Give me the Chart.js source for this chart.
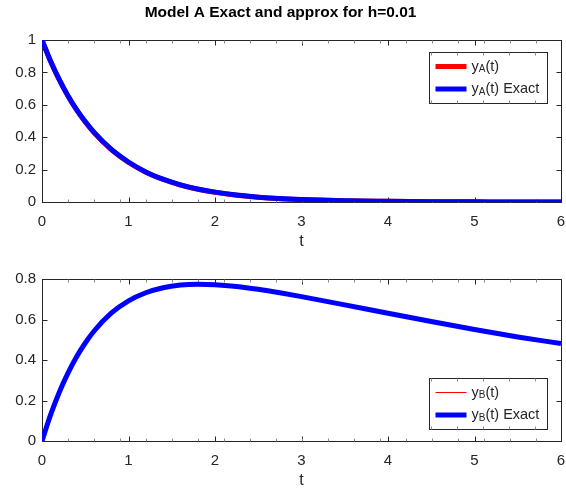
<!DOCTYPE html>
<html>
<head>
<meta charset="utf-8">
<script src="https://cdn.jsdelivr.net/npm/chart.js@4.4.0/dist/chart.umd.min.js"></script>
<style>
  html, body { margin: 0; padding: 0; background: #fff; }
  #wrap { position: relative; width: 566px; height: 494px; }
  .panel { position: absolute; left: 0; width: 566px; }
  #panelA { top: 0; height: 260px; }
  #panelB { top: 260px; height: 234px; }
</style>
</head>
<body>
<div id="wrap">
  <div class="panel" id="panelA"><canvas id="chartA" width="566" height="260"></canvas></div>
  <div class="panel" id="panelB"><canvas id="chartB" width="566" height="234"></canvas></div>
</div>
<script>
// sample times and concentrations
const tValues  = [0, 0.1, 0.2, 0.3, 0.4, 0.5, 0.6, 0.8, 1.0, 1.2, 1.4, 1.6, 1.8, 2.0, 2.25, 2.5, 2.75, 3.0, 3.5, 4.0, 4.5, 5.0, 5.5, 6.0];
const yAApprox = [1.000, 0.868, 0.754, 0.655, 0.569, 0.494, 0.429, 0.324, 0.244, 0.184, 0.139, 0.105, 0.079, 0.060, 0.042, 0.029, 0.020, 0.015, 0.007, 0.004, 0.002, 0.001, 0.000, 0.000];
const yAExact  = [1.000, 0.869, 0.756, 0.657, 0.571, 0.497, 0.432, 0.326, 0.247, 0.186, 0.141, 0.106, 0.080, 0.061, 0.043, 0.030, 0.021, 0.015, 0.007, 0.004, 0.002, 0.001, 0.000, 0.000];
const yBApprox = [0.000, 0.131, 0.242, 0.336, 0.417, 0.485, 0.543, 0.632, 0.692, 0.732, 0.757, 0.770, 0.774, 0.772, 0.763, 0.749, 0.731, 0.712, 0.671, 0.630, 0.589, 0.550, 0.513, 0.480];
const yBExact  = [0.000, 0.130, 0.241, 0.335, 0.416, 0.484, 0.542, 0.631, 0.692, 0.732, 0.757, 0.770, 0.774, 0.772, 0.763, 0.749, 0.732, 0.713, 0.672, 0.631, 0.590, 0.551, 0.514, 0.481];

const xTicks  = [0, 1, 2, 3, 4, 5, 6];
const yTicksA = [0, 0.2, 0.4, 0.6, 0.8, 1];
const yTicksB = [0, 0.2, 0.4, 0.6, 0.8];

const AXIS_COLOR = '#262626';
const FONT = '"Liberation Sans", Arial, Helvetica, sans-serif';

function points(ys) {
    return tValues.map((t, i) => ({ x: t, y: ys[i] }));
}

// box round the axes, inward ticks on all four sides
const framePlugin = {
    id: 'frame',
    beforeDatasetsDraw(chart, args, opts) {
        const { ctx, chartArea: a, scales } = chart;
        const L = Math.round(a.left) + 0.5, R = Math.round(a.right) + 0.5;
        const T = Math.round(a.top) + 0.5, B = Math.round(a.bottom) + 0.5;
        ctx.save();
        ctx.lineWidth = 1;
        ctx.strokeStyle = AXIS_COLOR;
        ctx.strokeRect(L, T, R - L, B - T);
        ctx.beginPath();
        xTicks.forEach(v => {
            const px = Math.round(scales.x.getPixelForValue(v)) + 0.5;
            ctx.moveTo(px, B); ctx.lineTo(px, B - 5);
            ctx.moveTo(px, T); ctx.lineTo(px, T + 5);
        });
        opts.yTicks.forEach(v => {
            const py = Math.round(scales.y.getPixelForValue(v)) + 0.5;
            ctx.moveTo(L, py); ctx.lineTo(L + 5, py);
            ctx.moveTo(R, py); ctx.lineTo(R - 5, py);
        });
        ctx.stroke();
        // small ticks, twenty to the width
        ctx.strokeStyle = '#8a8a8a';
        ctx.beginPath();
        for (let i = 1; i < 20; i++) {
            const px = Math.round(L + (R - L) * i / 20) + 0.5;
            ctx.moveTo(px, B); ctx.lineTo(px, B - 3);
            ctx.moveTo(px, T); ctx.lineTo(px, T + 3);
        }
        ctx.stroke();
        ctx.restore();
    }
};

// label like "y_A(t)": the letter after "_" is set as a subscript
function drawLabel(ctx, text, x, y) {
    const m = text.match(/^(.*?)_(\w)(.*)$/);
    const parts = m ? [[m[1], 14.5, 0], [m[2], 10, 3], [m[3], 14.5, 0]] : [[text, 14.5, 0]];
    parts.forEach(([s, size, dy]) => {
        ctx.font = size + 'px ' + FONT;
        ctx.fillText(s, x, y + dy);
        x += ctx.measureText(s).width;
    });
}

const boxLegend = {
    id: 'boxLegend',
    afterDraw(chart, args, opts) {
        const { ctx, chartArea: a } = chart;
        const w = 118, h = 51;
        const left = Math.round(a.right - 14 - w) + 0.5;
        const top = Math.round(opts.anchor === 'top' ? a.top + 12 : a.bottom - 12 - h) + 0.5;
        ctx.save();
        ctx.fillStyle = '#fff';
        ctx.fillRect(left, top, w, h);
        ctx.lineWidth = 1;
        ctx.strokeStyle = AXIS_COLOR;
        ctx.strokeRect(left, top, w, h);
        ctx.strokeStyle = '#8a8a8a';
        ctx.beginPath();
        for (let i = 1; i < 20; i++) {
            const px = Math.round(a.left + a.width * i / 20) + 0.5;
            if (px <= left || px >= left + w) continue;
            ctx.moveTo(px, top); ctx.lineTo(px, top + 3);
            ctx.moveTo(px, top + h); ctx.lineTo(px, top + h - 3);
        }
        ctx.stroke();
        const rows = [top + 14, top + 36.5];
        chart.data.datasets.forEach((ds, i) => {
            const y = rows[i];
            ctx.strokeStyle = ds.borderColor;
            ctx.lineWidth = ds.borderWidth;
            ctx.beginPath();
            ctx.moveTo(left + 6, y);
            ctx.lineTo(left + 37, y);
            ctx.stroke();
            ctx.fillStyle = AXIS_COLOR;
            ctx.textBaseline = 'middle';
            drawLabel(ctx, ds.label, left + 42, y);
        });
        ctx.restore();
    }
};

function makeChart(id, cfg) {
    return new Chart(document.getElementById(id), {
        type: 'line',
        data: {
            datasets: [
                { label: cfg.labels[0], data: points(cfg.approx), borderColor: '#ff0000',
                  borderWidth: cfg.approxWidth, order: 2 },
                { label: cfg.labels[1], data: points(cfg.exact), borderColor: '#0000ff',
                  borderWidth: 5, order: 1 }
            ]
        },
        options: {
            responsive: false,
            animation: false,
            devicePixelRatio: 1,
            elements: { point: { radius: 0 }, line: { cubicInterpolationMode: 'monotone' } },
            layout: { padding: cfg.padding },
            plugins: {
                legend: { display: false },
                tooltip: { enabled: false },
                title: cfg.title ? {
                    display: true, text: cfg.title, color: '#000',
                    font: { family: FONT, size: 15.5, weight: 'bold' },
                    padding: { top: 3.5, bottom: 18 }
                } : { display: false },
                frame: { yTicks: cfg.yTicks },
                boxLegend: { anchor: cfg.legendAt }
            },
            scales: {
                x: {
                    type: 'linear', min: 0, max: 6,
                    afterBuildTicks: s => { s.ticks = xTicks.map(v => ({ value: v })); },
                    afterFit: s => { s.height = cfg.xHeight; s.paddingLeft = 0; s.paddingRight = 0; },
                    grid: { display: false, drawTicks: false }, border: { display: false },
                    ticks: { color: AXIS_COLOR, padding: 11, maxRotation: 0,
                             font: { family: FONT, size: 15 },
                             callback: v => String(v) },
                    title: { display: true, text: 't', color: AXIS_COLOR,
                             font: { family: FONT, size: 16 },
                             padding: { top: 0, bottom: cfg.tPad } }
                },
                y: {
                    min: 0, max: cfg.yTicks[cfg.yTicks.length - 1],
                    afterBuildTicks: s => { s.ticks = cfg.yTicks.map(v => ({ value: v })); },
                    afterFit: s => { s.width = 42; s.paddingTop = 0; s.paddingBottom = 0; },
                    grid: { display: false, drawTicks: false }, border: { display: false },
                    ticks: { color: AXIS_COLOR, padding: 6,
                             font: { family: FONT, size: 15 },
                             callback: v => String(v) }
                }
            }
        },
        plugins: [framePlugin, boxLegend]
    });
}

makeChart('chartA', {
    title: 'Model A Exact and approx for h=0.01',
    labels: ['y_A(t)', 'y_A(t) Exact'],
    approx: yAApprox, exact: yAExact, approxWidth: 5,
    yTicks: yTicksA, legendAt: 'top',
    padding: { left: 0, right: 5, top: 0, bottom: 0 },
    xHeight: 58, tPad: 8.4
});

makeChart('chartB', {
    title: null,
    labels: ['y_B(t)', 'y_B(t) Exact'],
    approx: yBApprox, exact: yBExact, approxWidth: 1,
    yTicks: yTicksB, legendAt: 'bottom',
    padding: { left: 0, right: 5, top: 19, bottom: 0 },
    xHeight: 53, tPad: 3.4
});
</script>
</body>
</html>
